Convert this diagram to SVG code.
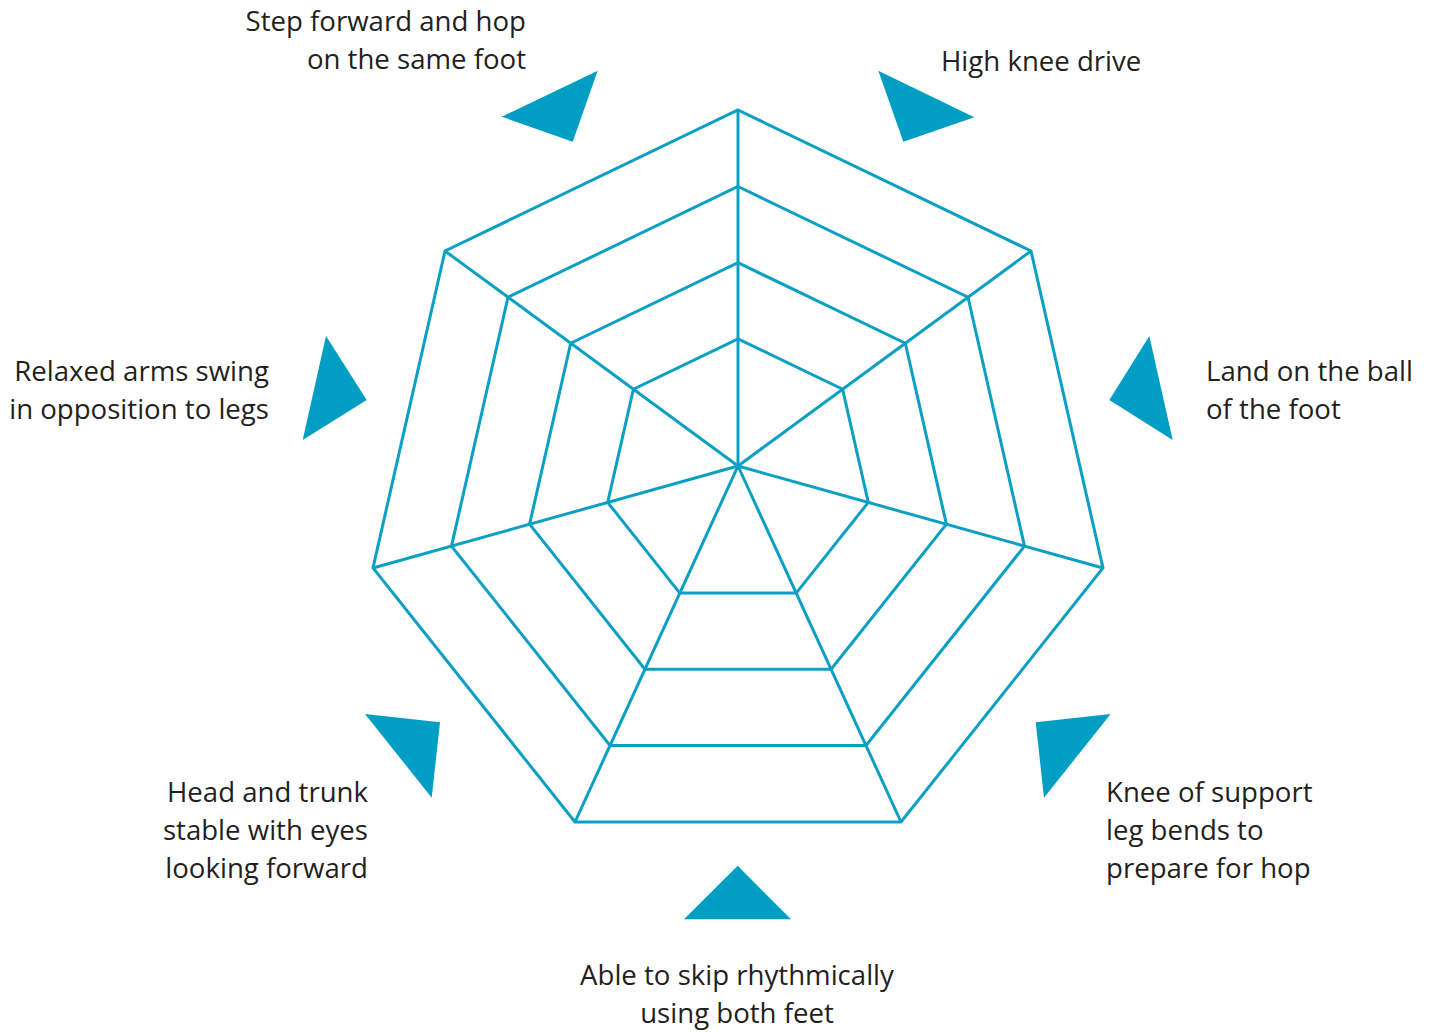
<svg xmlns="http://www.w3.org/2000/svg" width="1432" height="1032" viewBox="0 0 1432 1032">
  <style>
    .web { fill: none; stroke: #0A9FC3; stroke-width: 3; stroke-linejoin: miter; }
    .mark { fill: #009EC3; }
    .label { font-family: "Open Sans", "Liberation Sans", sans-serif; font-size: 27.6px; fill: #231F20; }
    .end { text-anchor: end; }
    .mid { text-anchor: middle; }
  </style>
  <rect width="1432" height="1032" fill="#ffffff"/>

  <!-- radar web: four nested heptagons -->
  <g id="web-rings">
    <polygon class="web" points="738,110 1031,251 1103,568 901,822 575,822 373,568 445,251"/>
    <polygon class="web" points="738,186.5 968,297.2 1024.5,546.1 866,745.5 610,745.5 451.5,546.1 508,297.2"/>
    <polygon class="web" points="738,262.7 905.3,343.2 946.4,524.2 831.1,669.3 644.9,669.3 529.6,524.2 570.7,343.2"/>
    <polygon class="web" points="738,338.9 842.6,389.2 868.3,502.4 796.2,593.1 679.8,593.1 607.7,502.4 633.4,389.2"/>
  </g>

  <!-- spokes from the hub to each outer corner -->
  <g id="connectors">
    <line class="web" x1="738" y1="466" x2="738" y2="110"/>
    <line class="web" x1="738" y1="466" x2="1031" y2="251"/>
    <line class="web" x1="738" y1="466" x2="1103" y2="568"/>
    <line class="web" x1="738" y1="466" x2="901" y2="822"/>
    <line class="web" x1="738" y1="466" x2="575" y2="822"/>
    <line class="web" x1="738" y1="466" x2="373" y2="568"/>
    <line class="web" x1="738" y1="466" x2="445" y2="251"/>
  </g>

  <g id="step-forward">
    <polygon class="mark" points="501.7,116.7 597.7,70.7 572.7,141.7"/>
    <text class="label end" x="526" y="31">Step forward and hop</text>
    <text class="label end" x="526" y="69">on the same foot</text>
  </g>

  <g id="high-knee">
    <polygon class="mark" points="878.3,70.7 974.3,117.3 903.3,141.7"/>
    <text class="label" x="941" y="71">High knee drive</text>
  </g>

  <g id="land-ball">
    <polygon class="mark" points="1149.3,336 1109.3,400 1172.7,440"/>
    <text class="label" x="1206" y="381">Land on the ball</text>
    <text class="label" x="1206" y="419">of the foot</text>
  </g>

  <g id="knee-support">
    <polygon class="mark" points="1035.7,722.3 1110.7,714 1044,797.7"/>
    <text class="label" x="1106" y="802">Knee of support</text>
    <text class="label" x="1106" y="840">leg bends to</text>
    <text class="label" x="1106" y="878">prepare for hop</text>
  </g>

  <g id="skip-rhythm">
    <polygon class="mark" points="737.7,865.7 791,919.3 684,919.3"/>
    <text class="label mid" x="737" y="985">Able to skip rhythmically</text>
    <text class="label mid" x="737" y="1023">using both feet</text>
  </g>

  <g id="head-trunk">
    <polygon class="mark" points="365,714 440,722.3 431.7,797.7"/>
    <text class="label end" x="368" y="802">Head and trunk</text>
    <text class="label end" x="368" y="840">stable with eyes</text>
    <text class="label end" x="368" y="878">looking forward</text>
  </g>

  <g id="relaxed-arms">
    <polygon class="mark" points="326,336 366.7,400 302.7,440"/>
    <text class="label end" x="269" y="381">Relaxed arms swing</text>
    <text class="label end" x="269" y="419">in opposition to legs</text>
  </g>
</svg>
